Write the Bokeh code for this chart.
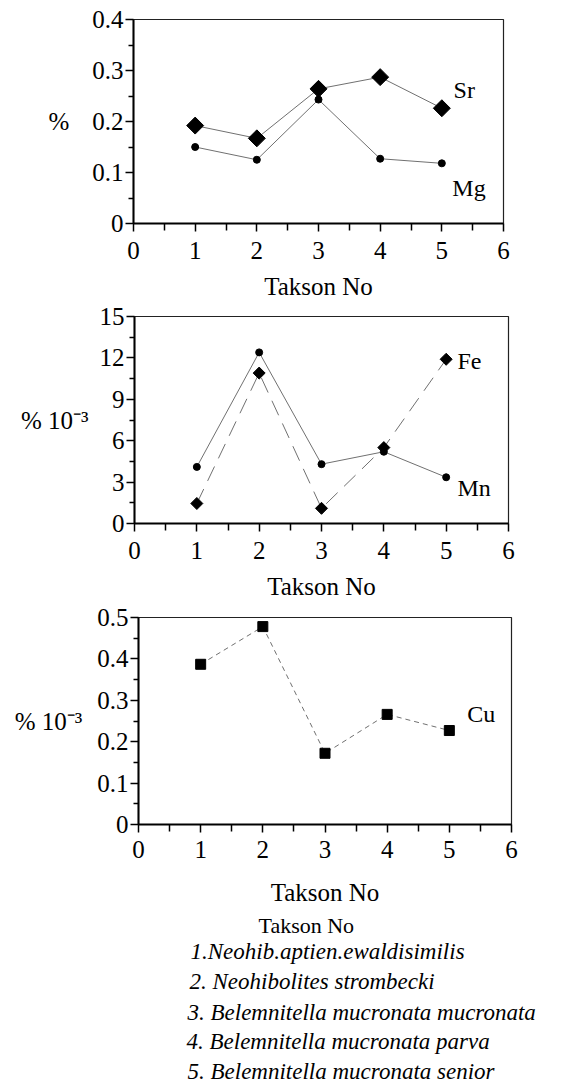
from bokeh.plotting import figure
from bokeh.layouts import column
from bokeh.models import Range1d, FixedTicker, Label, CustomJSTickFormatter
from bokeh.embed import file_html
from bokeh.resources import INLINE
import math

# ---- data ----
taxa = [1, 2, 3, 4, 5]
x_ticks = [0, 1, 2, 3, 4, 5, 6]
x_minor = [0.5, 1.5, 2.5, 3.5, 4.5, 5.5]

sr = [0.192, 0.167, 0.264, 0.287, 0.226]
mg = [0.150, 0.125, 0.243, 0.127, 0.118]

mn = [4.1, 12.4, 4.3, 5.2, 3.35]
fe = [1.45, 10.9, 1.1, 5.5, 11.9]

cu = [0.387, 0.478, 0.172, 0.266, 0.227]

y1_ticks = [0, 0.1, 0.2, 0.3, 0.4]
y1_minor = [0.05, 0.15, 0.25, 0.35]
y2_ticks = [0, 3, 6, 9, 12, 15]
y2_minor = [1.5, 4.5, 7.5, 10.5, 13.5]
y3_ticks = [0, 0.1, 0.2, 0.3, 0.4, 0.5]
y3_minor = [0.05, 0.15, 0.25, 0.35, 0.45]

x_title = "Takson No"
y1_title = "%"
y2_title = "% 10\u207b\u00b3"
y3_title = "% 10\u207b\u00b3"
taxon_names = [
    "1.Neohib.aptien.ewaldisimilis",
    "2. Neohibolites strombecki",
    "3. Belemnitella mucronata mucronata",
    "4. Belemnitella mucronata parva",
    "5. Belemnitella mucronata senior",
]

FONT = "Liberation Serif"
LINE = "#707070"


def panel(height, top, left, right, frame_h, y_end, yt, ym, fmt_code, ytitle,
          ytitle_standoff, tick_standoff, title_standoff):
    p = figure(width=578, height=height,
               x_range=Range1d(0, 6), y_range=Range1d(0, y_end),
               min_border_left=left, min_border_right=578 - right,
               min_border_top=top, min_border_bottom=height - top - frame_h,
               output_backend="svg", toolbar_location=None)
    p.xgrid.visible = False
    p.ygrid.visible = False
    p.outline_line_color = "#222222"
    p.outline_line_width = 1.2
    p.background_fill_color = "white"
    p.border_fill_color = "white"
    p.xaxis.ticker = FixedTicker(ticks=x_ticks, minor_ticks=x_minor)
    p.yaxis.ticker = FixedTicker(ticks=yt, minor_ticks=ym)
    p.yaxis.formatter = CustomJSTickFormatter(code=fmt_code)
    for ax in (p.xaxis[0], p.yaxis[0]):
        ax.axis_line_color = "black"
        ax.axis_line_width = 2
        ax.major_tick_line_color = "black"
        ax.minor_tick_line_color = "black"
        ax.major_tick_line_width = 1.5
        ax.minor_tick_line_width = 1.5
        ax.major_tick_in = 0
        ax.minor_tick_in = 0
        ax.major_tick_out = 8
        ax.major_label_text_font = FONT
        ax.major_label_text_font_size = "25px"
        ax.major_label_text_color = "black"
        ax.axis_label_text_font = FONT
        ax.axis_label_text_font_size = "25px"
        ax.axis_label_text_font_style = "normal"
        ax.axis_label_text_color = "black"
    p.xaxis.minor_tick_out = 7
    p.yaxis.minor_tick_out = 5
    p.xaxis.major_label_standoff = tick_standoff
    p.yaxis.major_label_standoff = 2
    p.xaxis.axis_label = x_title
    p.xaxis.axis_label_standoff = title_standoff
    p.yaxis.axis_label = ytitle
    p.yaxis.axis_label_orientation = "horizontal"
    p.yaxis.axis_label_standoff = ytitle_standoff
    return p


def lab(p, x, y, text, size="24px", align="left", baseline="middle", style="normal"):
    p.add_layout(Label(x=x, y=y, text=text, text_font=FONT, text_font_size=size,
                       text_align=align, text_baseline=baseline, text_color="black",
                       text_font_style=style))


# ---- panel 1: Sr, Mg ----
p1 = panel(302, 19, 133, 503, 205, 0.4, y1_ticks, y1_minor,
           "return tick == 0 ? '0' : tick.toFixed(1);", y1_title, 20, 10, 11)
p1.line(taxa, sr, line_color=LINE, line_width=1)
p1.line(taxa, mg, line_color=LINE, line_width=1)
p1.scatter(taxa, sr, marker="square", angle=math.pi / 4, size=12, color="black")
p1.scatter(taxa, mg, marker="circle", size=7, color="black")
lab(p1, 5.19, 0.261, "Sr")
lab(p1, 5.17, 0.070, "Mg")

# ---- panel 2: Fe, Mn ----
p2 = panel(301, 14, 134, 508, 207, 15, y2_ticks, y2_minor,
           "return tick.toFixed(0);", y2_title, 8, 10, 11)
p2.line(taxa, mn, line_color=LINE, line_width=1)
p2.line(taxa, fe, line_color=LINE, line_width=1, line_dash="16 9")
p2.scatter(taxa, mn, marker="circle", size=7, color="black")
p2.scatter(taxa, fe, marker="square", angle=math.pi / 4, size=8.5, color="black")
lab(p2, 5.18, 11.8, "Fe")
lab(p2, 5.18, 2.6, "Mn")

# ---- panel 3: Cu ----
p3 = panel(305, 14, 138, 511, 207, 0.5, y3_ticks, y3_minor,
           "return tick == 0 ? '0' : tick.toFixed(1);", y3_title, 12, 8, 18)
p3.line(taxa, cu, line_color=LINE, line_width=1, line_dash="5 4")
p3.scatter(taxa, cu, marker="square", size=10, color="black")
lab(p3, 5.29, 0.268, "Cu")

# ---- list of taxa ----
top4 = 908
p4 = figure(width=578, height=1086 - top4, x_range=Range1d(0, 578), y_range=Range1d(1086, top4),
            min_border=0, x_axis_location=None, y_axis_location=None,
            output_backend="svg", toolbar_location=None)
p4.grid.visible = False
p4.outline_line_color = None
lab(p4, 258, 925, x_title, "22px")
name_x = [190, 189, 187, 186, 187]
name_y = [951, 981, 1012, 1041, 1071]
for nx, ny, name in zip(name_x, name_y, taxon_names):
    lab(p4, nx, ny, name, "23px", style="italic")

layout = column(column(p1), column(p2), column(p3), column(p4), spacing=0)
open("out.html", "w").write(file_html(layout, INLINE))
